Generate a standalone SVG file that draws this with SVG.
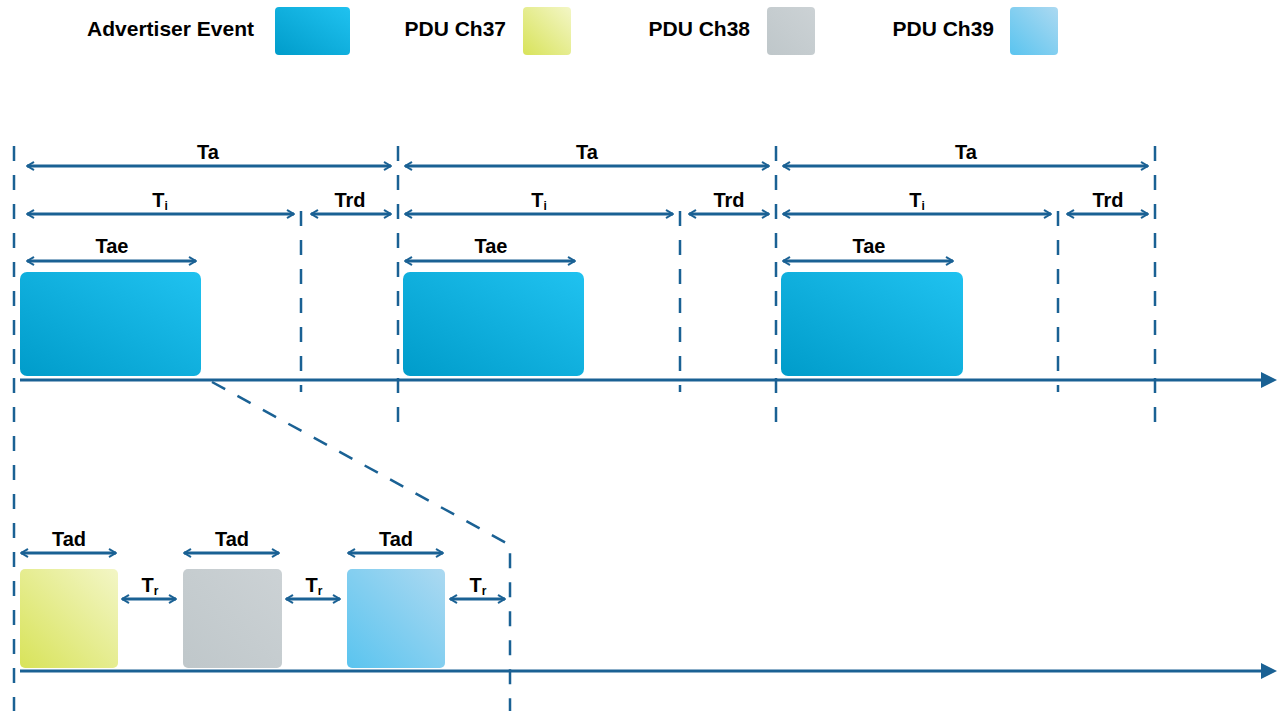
<svg xmlns="http://www.w3.org/2000/svg" width="1281" height="711" viewBox="0 0 1281 711">
<defs>
<linearGradient id="gAE" x1="0" y1="1" x2="1" y2="0"><stop offset="0" stop-color="#009cca"/><stop offset="1" stop-color="#20c2f0"/></linearGradient>
<linearGradient id="g37" x1="0" y1="1" x2="1" y2="0"><stop offset="0" stop-color="#d8e35a"/><stop offset="1" stop-color="#f3f6c6"/></linearGradient>
<linearGradient id="g38" x1="0" y1="1" x2="1" y2="0"><stop offset="0" stop-color="#bfc7ca"/><stop offset="1" stop-color="#ccd2d5"/></linearGradient>
<linearGradient id="g39" x1="0" y1="1" x2="1" y2="0"><stop offset="0" stop-color="#5ac4ef"/><stop offset="1" stop-color="#acd9f1"/></linearGradient>
<marker id="ch" viewBox="0 0 10 10" refX="9" refY="5" markerWidth="3" markerHeight="3.3" orient="auto-start-reverse" markerUnits="strokeWidth">
<path d="M2,1 L9,5 L2,9" fill="none" stroke="#1a6194" stroke-width="2.2" stroke-linecap="round" stroke-linejoin="round"/>
</marker>
<marker id="tri" viewBox="0 0 10 10" refX="2" refY="5" markerWidth="5.5" markerHeight="6" orient="auto" markerUnits="strokeWidth">
<path d="M0,0 L10,5 L0,10 Z" fill="#1a6194"/>
</marker>
</defs>
<style>
text{font-family:"Liberation Sans",Arial,sans-serif;font-weight:bold;fill:#000}
.leg{font-size:21px}
.lb{font-size:20px;text-anchor:middle}
.sub{font-size:12px}
.dim{stroke:#1a6194;stroke-width:3;fill:none;marker-start:url(#ch);marker-end:url(#ch)}
.dash{stroke:#1a6194;stroke-width:2.5;fill:none;stroke-dasharray:15 14}
.axis{stroke:#1a6194;stroke-width:3;fill:none;marker-end:url(#tri)}
</style>
<rect width="1281" height="711" fill="#fff"/>
<g id="legend">
<text class="leg" x="254" y="36" text-anchor="end">Advertiser Event</text>
<rect x="275" y="7" width="75" height="48" rx="4" fill="url(#gAE)"/>
<text class="leg" x="506" y="36" text-anchor="end">PDU Ch37</text>
<rect x="523" y="7" width="48" height="48" rx="4" fill="url(#g37)"/>
<text class="leg" x="750" y="36" text-anchor="end">PDU Ch38</text>
<rect x="767" y="7" width="48" height="48" rx="4" fill="url(#g38)"/>
<text class="leg" x="994" y="36" text-anchor="end">PDU Ch39</text>
<rect x="1010" y="7" width="48" height="48" rx="4" fill="url(#g39)"/>
</g>
<g id="connectors">
<line class="dash" x1="14" y1="146" x2="14" y2="711"/>
<line class="dash" x1="398" y1="146" x2="398" y2="422"/>
<line class="dash" x1="776" y1="146" x2="776" y2="422"/>
<line class="dash" x1="1155" y1="146" x2="1155" y2="422"/>
<line class="dash" x1="301" y1="211" x2="301" y2="392"/>
<line class="dash" x1="680" y1="211" x2="680" y2="392"/>
<line class="dash" x1="1058" y1="211" x2="1058" y2="392"/>
<polyline class="dash" points="212,382 510,545 510,711"/>
<line class="axis" x1="20" y1="380" x2="1264" y2="380"/>
<line class="axis" x1="20" y1="671" x2="1264" y2="671"/>
<line class="dim" x1="27" y1="166" x2="391" y2="166"/>
<line class="dim" x1="405" y1="166" x2="769" y2="166"/>
<line class="dim" x1="783" y1="166" x2="1148" y2="166"/>
<line class="dim" x1="27" y1="214" x2="294" y2="214"/>
<line class="dim" x1="405" y1="214" x2="673" y2="214"/>
<line class="dim" x1="783" y1="214" x2="1051" y2="214"/>
<line class="dim" x1="311" y1="214" x2="391" y2="214"/>
<line class="dim" x1="689" y1="214" x2="769" y2="214"/>
<line class="dim" x1="1067" y1="214" x2="1148" y2="214"/>
<line class="dim" x1="27" y1="261" x2="196" y2="261"/>
<line class="dim" x1="405" y1="261" x2="575" y2="261"/>
<line class="dim" x1="783" y1="261" x2="953" y2="261"/>
<line class="dim" x1="21" y1="553" x2="116" y2="553"/>
<line class="dim" x1="184" y1="553" x2="279" y2="553"/>
<line class="dim" x1="348" y1="553" x2="443" y2="553"/>
<line class="dim" x1="122" y1="599" x2="176" y2="599"/>
<line class="dim" x1="286" y1="599" x2="340" y2="599"/>
<line class="dim" x1="450" y1="599" x2="505" y2="599"/>
</g>
<g id="labels">
<text class="lb" x="208" y="159">Ta</text>
<text class="lb" x="587" y="159">Ta</text>
<text class="lb" x="966" y="159">Ta</text>
<text class="lb" x="160" y="207">T<tspan class="sub" dy="3">i</tspan></text>
<text class="lb" x="539" y="207">T<tspan class="sub" dy="3">i</tspan></text>
<text class="lb" x="917" y="207">T<tspan class="sub" dy="3">i</tspan></text>
<text class="lb" x="350" y="207">Trd</text>
<text class="lb" x="729" y="207">Trd</text>
<text class="lb" x="1108" y="207">Trd</text>
<text class="lb" x="112" y="253">Tae</text>
<text class="lb" x="491" y="253">Tae</text>
<text class="lb" x="869" y="253">Tae</text>
<text class="lb" x="69" y="546">Tad</text>
<text class="lb" x="232" y="546">Tad</text>
<text class="lb" x="396" y="546">Tad</text>
<text class="lb" x="150" y="592">T<tspan class="sub" dy="3">r</tspan></text>
<text class="lb" x="314" y="592">T<tspan class="sub" dy="3">r</tspan></text>
<text class="lb" x="478" y="592">T<tspan class="sub" dy="3">r</tspan></text>
</g>
<g id="event1"><rect x="20" y="272" width="181" height="104" rx="7" fill="url(#gAE)"/></g>
<g id="event2"><rect x="403" y="272" width="181" height="104" rx="7" fill="url(#gAE)"/></g>
<g id="event3"><rect x="781" y="272" width="182" height="104" rx="7" fill="url(#gAE)"/></g>
<g id="pdu37"><rect x="20" y="569" width="98" height="99" rx="5" fill="url(#g37)"/></g>
<g id="pdu38"><rect x="183" y="569" width="99" height="99" rx="5" fill="url(#g38)"/></g>
<g id="pdu39"><rect x="347" y="569" width="98" height="99" rx="5" fill="url(#g39)"/></g>
</svg>
